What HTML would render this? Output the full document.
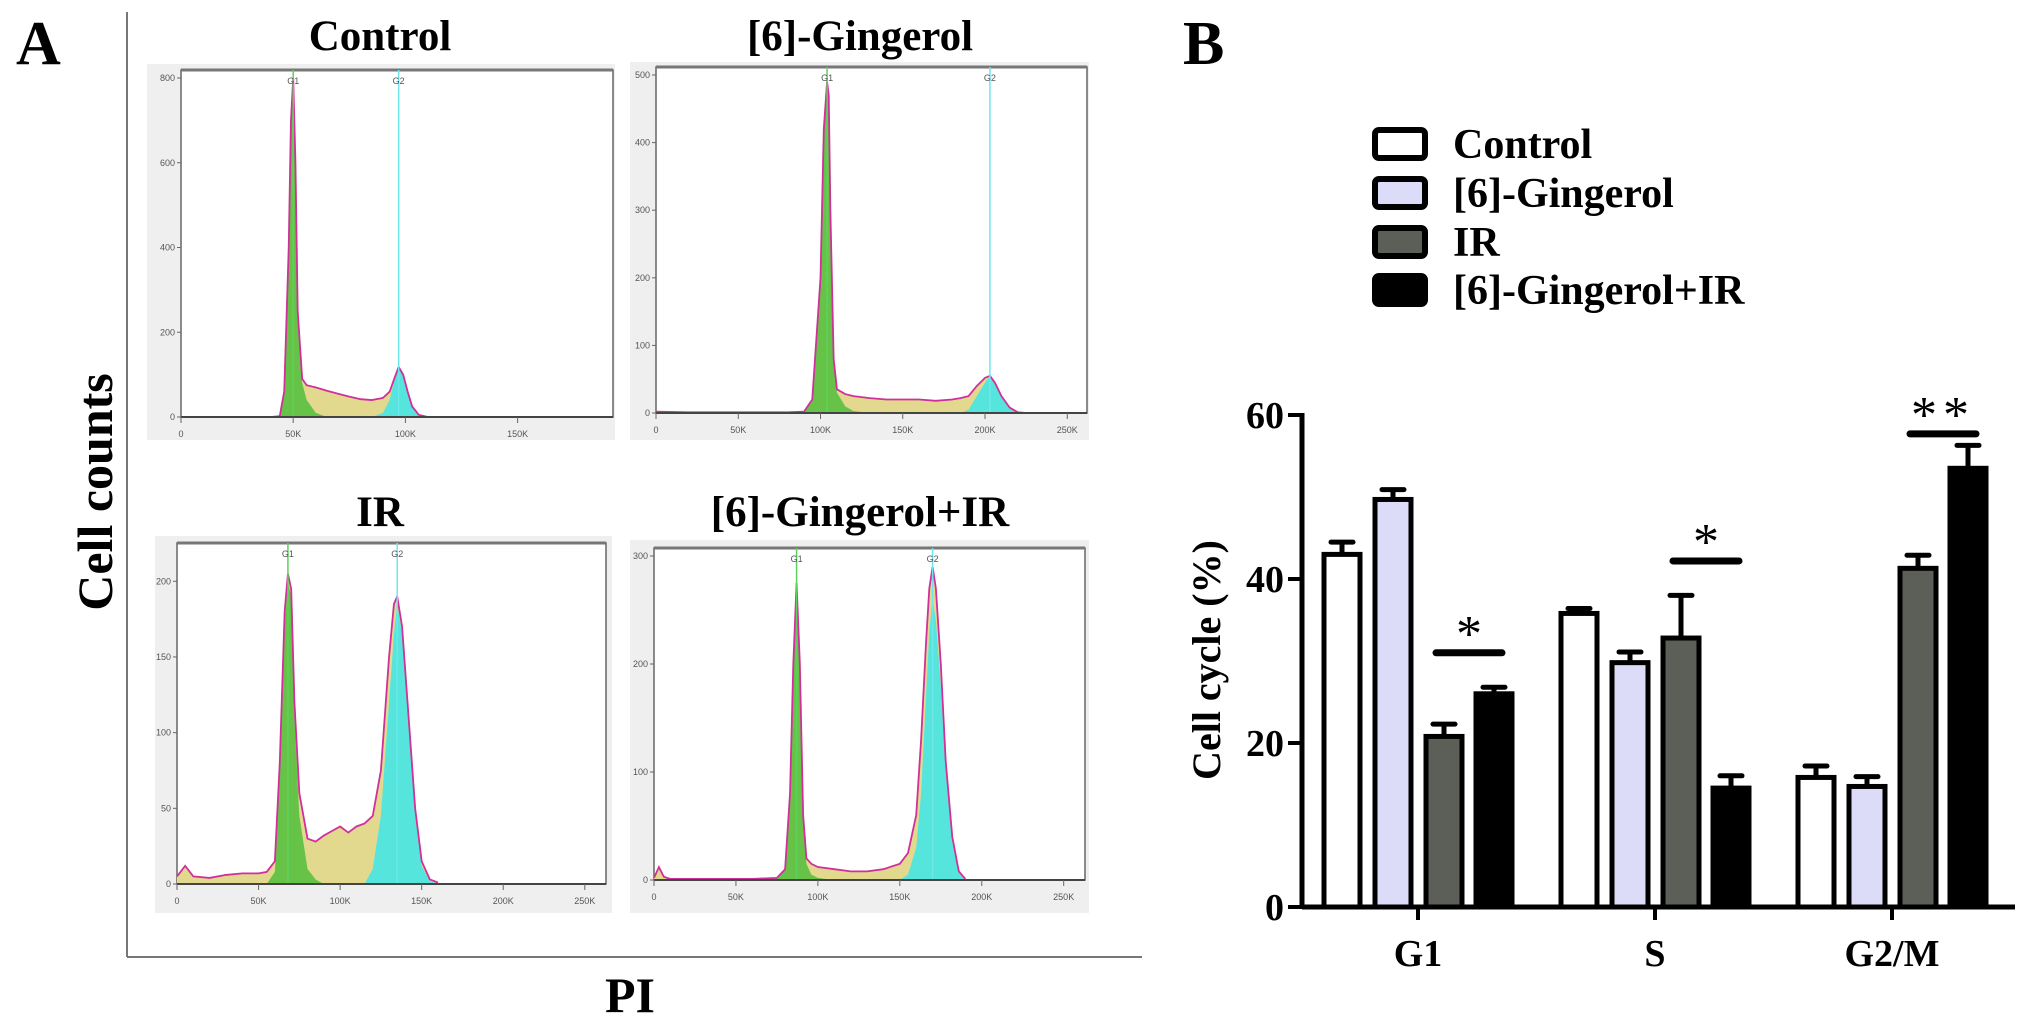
<!DOCTYPE html>
<html><head><meta charset="utf-8"><style>
html,body{margin:0;padding:0;background:#fff;}
svg{display:block;font-family:"Liberation Serif",serif;}
</style></head><body>
<svg id="fig" width="2031" height="1023" viewBox="0 0 2031 1023">
<rect width="2031" height="1023" fill="#fff"/>
<text x="16" y="64" font-size="62" font-weight="bold">A</text>
<text x="1183" y="64" font-size="62" font-weight="bold">B</text>
<line x1="127" y1="12" x2="127" y2="957" stroke="#777" stroke-width="2"/>
<line x1="127" y1="957" x2="1142" y2="957" stroke="#777" stroke-width="2"/>
<text transform="translate(112,492) rotate(-90)" text-anchor="middle" font-size="50" font-weight="bold">Cell counts</text>
<text x="630" y="1012" text-anchor="middle" font-size="50" font-weight="bold">PI</text>
<text x="380" y="50" text-anchor="middle" font-size="43" font-weight="bold">Control</text>
<text x="860" y="50" text-anchor="middle" font-size="43" font-weight="bold">[6]-Gingerol</text>
<text x="380" y="526" text-anchor="middle" font-size="43" font-weight="bold">IR</text>
<text x="860" y="526" text-anchor="middle" font-size="43" font-weight="bold">[6]-Gingerol+IR</text>
<g id="histos"></g>
<g id="barchart"></g>
</svg>
<script>
// ---- Histogram data (PI in K, counts) ----
const ctrlBins = [40,44,46,48,49,50,51,52,54,56,60,65,70,75,80,85,90,93,95,97,99,101,103,106,110];
const ctrlTotal = [0,2,60,400,700,800,600,250,90,75,70,62,55,48,42,40,45,60,90,118,100,60,25,5,0];
const ctrlG1 = [0,2,60,400,700,800,600,250,80,40,10,0,0,0,0,0,0,0,0,0,0,0,0,0,0];
const ctrlG2 = [0,0,0,0,0,0,0,0,0,0,0,0,0,0,0,0,10,40,85,118,100,60,25,5,0];
const ctrlYTicks = [0,200,400,600,800];
const ctrlXTicks = [0,50,100,150];

const gingBins = [0,20,40,60,80,90,95,100,102,104,105,106,108,110,115,120,130,140,150,160,170,180,185,190,195,200,203,206,210,215,220,225];
const gingTotal = [2,1,1,1,1,2,20,200,420,490,470,300,80,35,28,25,22,20,20,20,18,20,22,25,40,52,55,45,25,8,1,0];
const gingG1 = [2,1,1,1,1,2,20,200,420,490,470,300,80,30,10,3,0,0,0,0,0,0,0,0,0,0,0,0,0,0,0,0];
const gingG2 = [0,0,0,0,0,0,0,0,0,0,0,0,0,0,0,0,0,0,0,0,0,0,0,5,25,45,55,45,25,8,1,0];
const gingYTicks = [0,100,200,300,400,500];
const gingXTicks = [0,50,100,150,200,250];

const irBins = [0,5,10,20,30,40,50,55,60,63,66,68,70,72,75,80,85,90,95,100,105,110,115,120,125,130,133,135,138,142,146,150,155,160];
const irTotal = [5,12,5,4,6,7,7,8,15,80,180,205,195,120,60,30,28,32,35,38,34,38,40,45,75,150,185,190,170,110,50,15,3,1];
const irG1 = [0,0,0,0,0,0,0,0,8,70,170,200,190,110,45,10,3,0,0,0,0,0,0,0,0,0,0,0,0,0,0,0,0,0];
const irG2 = [0,0,0,0,0,0,0,0,0,0,0,0,0,0,0,0,0,0,0,0,0,0,0,10,45,120,165,185,165,105,45,12,2,0];
const irYTicks = [0,50,100,150,200];
const irXTicks = [0,50,100,150,200,250];

const girBins = [0,3,6,10,20,40,60,75,80,83,85,87,89,91,93,96,100,110,120,130,140,150,155,160,163,166,168,170,172,175,178,182,186,190];
const girTotal = [2,12,3,1,1,1,1,2,10,80,200,275,200,60,20,15,12,10,8,8,10,15,25,60,130,220,270,290,270,200,110,40,8,1];
const girG1 = [0,0,0,0,0,0,0,2,10,80,200,275,200,55,15,5,2,0,0,0,0,0,0,0,0,0,0,0,0,0,0,0,0,0];
const girG2 = [0,0,0,0,0,0,0,0,0,0,0,0,0,0,0,0,0,0,0,0,0,0,5,30,80,170,230,260,240,180,100,35,7,0];
const girYTicks = [0,100,200,300];
const girXTicks = [0,50,100,150,200,250];

// ---- Bar chart data ----
const phases = ["G1","S","G2/M"];
const groups = ["Control","[6]-Gingerol","IR","[6]-Gingerol+IR"];
const controlVals = [43.0,35.8,15.8];
const gingerolVals = [49.7,29.8,14.7];
const irVals = [20.8,32.8,41.3];
const comboVals = [26.0,14.5,53.5];
const controlErr = [1.5,0.6,1.4];
const gingerolErr = [1.2,1.3,1.2];
const irErr = [1.5,5.2,1.6];
const comboErr = [0.8,1.5,2.8];
const yTicks = [0,20,40,60];
const sigLevels = [31.0,42.2,57.7];
const sigMarks = ["*","*","**"];

const NS="http://www.w3.org/2000/svg";
function mk(tag, attrs, parent){const e=document.createElementNS(NS,tag);for(const k in attrs)e.setAttribute(k,attrs[k]);parent.appendChild(e);return e;}

const H=document.getElementById('histos');
function histo(name, box, inner, xmax, ymax, bins, total, g1, g2, yt, xt, g1pos, g2pos){
  const g=mk('g',{},H);
  
  
  const bg=mk('rect',{x:box[0],y:box[1],width:box[2]-box[0],height:box[3]-box[1],fill:'#efefef'},g);
  
  
  const [x0,y0,x1,y1]=inner;
  const pr=mk('rect',{x:x0,y:y0,width:x1-x0,height:y1-y0,fill:'#fff',stroke:'#666','stroke-width':1.5},g);
  
  
  mk('line',{x1:x0,y1:y0,x2:x1,y2:y0,stroke:'#777','stroke-width':3},g);
  const sx=v=>x0+(v/xmax)*(x1-x0);
  const sy=v=>y1-(v/ymax)*(y1-y0-8);
  function poly(arr,fill,dn){
    let p=sx(bins[0])+','+y1;
    for(let i=0;i<bins.length;i++)p+=' '+sx(bins[i])+','+sy(arr[i]);
    p+=' '+sx(bins[bins.length-1])+','+y1;
    const e=mk('polygon',{points:p,fill:fill},g);
    
    
  }
  poly(total,'#e3d98e',name+'-s-phase');
  poly(g1,'rgba(80,190,60,0.85)',name+'-g1-peak');
  poly(g2,'rgba(60,230,235,0.85)',name+'-g2-peak');
  let lp='';for(let i=0;i<bins.length;i++)lp+=sx(bins[i])+','+sy(total[i])+' ';
  const ln=mk('polyline',{points:lp,fill:'none',stroke:'#d0309a','stroke-width':1.8},g);
  
  
  const gl1=mk('line',{x1:sx(g1pos),y1:y0,x2:sx(g1pos),y2:y1,stroke:'#5bd35b','stroke-width':1.5},g);
  
  
  const gl2=mk('line',{x1:sx(g2pos),y1:y0,x2:sx(g2pos),y2:y1,stroke:'#6ee6ee','stroke-width':1.5},g);
  
  
  mk('text',{x:sx(g1pos),y:y0+14,'font-size':9,'text-anchor':'middle',fill:'#555','font-family':'Liberation Sans'},g).textContent='G1';
  mk('text',{x:sx(g2pos),y:y0+14,'font-size':9,'text-anchor':'middle',fill:'#555','font-family':'Liberation Sans'},g).textContent='G2';
  mk('line',{x1:x0,y1:y1,x2:x1,y2:y1,stroke:'#444','stroke-width':2},g);
  yt.forEach(t=>{
    mk('line',{x1:x0-4,y1:sy(t),x2:x0,y2:sy(t),stroke:'#666'},g);
    const tt=mk('text',{x:x0-6,y:sy(t)+3,'font-size':9,'text-anchor':'end',fill:'#555','font-family':'Liberation Sans'},g);
    tt.textContent=t;
    
    
  });
  xt.forEach(t=>{
    mk('line',{x1:sx(t),y1:y1,x2:sx(t),y2:y1+6,stroke:'#666'},g);
    const tt=mk('text',{x:sx(t),y:y1+20,'font-size':9,'text-anchor':'middle',fill:'#555','font-family':'Liberation Sans'},g);
    tt.textContent=t===0?'0':t+'K';
    
    
  });
}
histo('control-histogram',[147,64,615,440],[181,70,613,417],192.5,800,ctrlBins,ctrlTotal,ctrlG1,ctrlG2,ctrlYTicks,ctrlXTicks,50,97);
histo('gingerol-histogram',[630,62,1089,440],[656,67,1087,413],262,500,gingBins,gingTotal,gingG1,gingG2,gingYTicks,gingXTicks,104,203);
histo('ir-histogram',[155,536,612,913],[177,543,606,884],263,220,irBins,irTotal,irG1,irG2,irYTicks,irXTicks,68,135);
histo('gingerol-ir-histogram',[630,540,1089,913],[654,548,1085,880],263,300,girBins,girTotal,girG1,girG2,girYTicks,girXTicks,87,170);

// ---- Bar chart ----
const B=document.getElementById('barchart');
const axX=1302, y0px=907, pxPerUnit=8.2;
const groupCenters=[1418,1655,1892];
const offsets=[-76,-25,26,76];
const barW=36;
const fills=['#ffffff','#dcdcf8','#5c5e58','#000000'];
const vals=[controlVals,gingerolVals,irVals,comboVals];
const errs=[controlErr,gingerolErr,irErr,comboErr];
const Y=v=>y0px-v*pxPerUnit;

const ttl=mk('text',{transform:'translate(1220,660) rotate(-90)','text-anchor':'middle','font-size':40,'font-weight':'bold'},B);
ttl.textContent='Cell cycle (%)';



for(let s=0;s<4;s++){
  for(let p=0;p<3;p++){
    const cx=groupCenters[p]+offsets[s];
    const top=Y(vals[s][p]);
    const et=Y(vals[s][p]+errs[s][p]);
    const el=mk('line',{x1:cx,y1:top,x2:cx,y2:et,stroke:'#000','stroke-width':5},B);
    
    
    mk('line',{x1:cx-11,y1:et,x2:cx+11,y2:et,stroke:'#000','stroke-width':5,'stroke-linecap':'round'},B);
    const r=mk('rect',{x:cx-barW/2,y:top,width:barW,height:y0px-top,fill:fills[s],stroke:'#000','stroke-width':5},B);
    
    
  }
}
const yax=mk('line',{x1:axX,y1:Y(60)-2,x2:axX,y2:y0px,stroke:'#000','stroke-width':5},B);


const xax=mk('line',{x1:axX,y1:y0px,x2:2015,y2:y0px,stroke:'#000','stroke-width':5},B);


yTicks.forEach(t=>{
  mk('line',{x1:axX-14,y1:Y(t),x2:axX,y2:Y(t),stroke:'#000','stroke-width':4},B);
  const tt=mk('text',{x:axX-18,y:Y(t)+13,'text-anchor':'end','font-size':38,'font-weight':'bold'},B);
  tt.textContent=t;
  
  
});
phases.forEach((ph,p)=>{
  mk('line',{x1:groupCenters[p],y1:y0px,x2:groupCenters[p],y2:y0px+13,stroke:'#000','stroke-width':4},B);
  const tt=mk('text',{x:groupCenters[p],y:966,'text-anchor':'middle','font-size':38,'font-weight':'bold'},B);
  tt.textContent=ph;
  
  
});
sigLevels.forEach((lv,p)=>{
  const xa=groupCenters[p]+offsets[2]-8, xb=groupCenters[p]+offsets[3]+8;
  const sl=mk('line',{x1:xa,y1:Y(lv),x2:xb,y2:Y(lv),stroke:'#000','stroke-width':7,'stroke-linecap':'round'},B);
  
  
  const st=mk('text',{x:(xa+xb)/2,y:Y(lv)-2,'text-anchor':'middle','font-size':52,'letter-spacing':sigMarks[p].length>1?6:0},B);
  st.textContent=sigMarks[p];
  
  
});
// legend
const legY=[144,193,242,290];
groups.forEach((gname,i)=>{
  const lr=mk('rect',{x:1375,y:legY[i]-14,width:50,height:28,rx:4,fill:fills[i],stroke:'#000','stroke-width':6},B);
  
  
  const lt=mk('text',{x:1453,y:legY[i]+14,'font-size':42,'font-weight':'bold'},B);
  lt.textContent=gname;
  
  
});
</script>
</body></html>
